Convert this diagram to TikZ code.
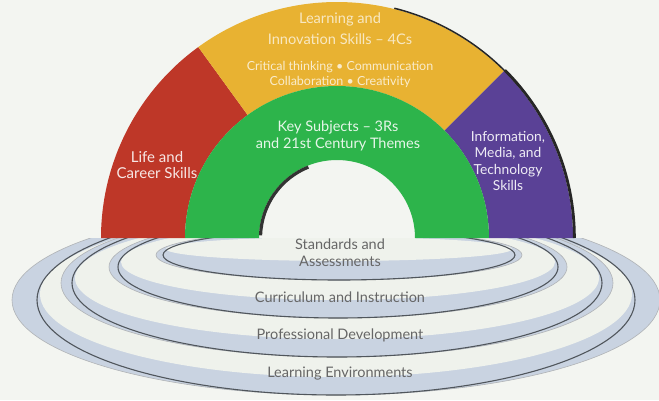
\documentclass[tikz,border=0pt]{standalone}
\usepackage{fontspec}
\setmainfont{Lato}
\definecolor{paper}{HTML}{F3F5F1}
\definecolor{lifered}{HTML}{BE3728}
\definecolor{learnyellow}{HTML}{E8B232}
\definecolor{keygreen}{HTML}{2DB44B}
\definecolor{infopurple}{HTML}{5A4196}
\definecolor{ringblue}{HTML}{C9D3E1}
\definecolor{ringwhite}{HTML}{EFF2EC}
\definecolor{ringline}{HTML}{50565C}
\definecolor{labelgrey}{HTML}{666666}

\begin{document}
\begin{tikzpicture}[x=1pt,y=1pt,
  band/.style={fill=ringblue,draw=ringline!45,line width=.6pt},
  topface/.style={fill=ringwhite},
  rim/.style={draw=ringline,line width=1.1pt},
  arclbl/.style={align=center,inner sep=0pt},
  baselbl/.style={align=center,inner sep=0pt,text=labelgrey,font=\fontsize{14.5}{17}\selectfont}]
\useasboundingbox (0,0) rectangle (659,400);
\fill[paper] (0,0) rectangle (659,400);
\coordinate (o) at (337,162);

% rings under the arch
\begin{scope}
\clip (0,0) rectangle (659,162);
\foreach \cx/\cy/\ra/\rd/\ry/\cdy/\cry in {336/100/324/299/95/6/83, 337/117/276/265/74/5/61, 338/133/229/220/51/5/38, 339/145/183/176/25/6/12}{
  \path[band] (\cx,\cy) ellipse [x radius=\ra, y radius=\ry];
  \fill[topface] (\cx,\cy+\cdy) ellipse [x radius=\rd-3, y radius=\cry];
  \draw[rim] (\cx,\cy) ellipse [x radius=\rd, y radius=\ry];
}
\end{scope}

% the arch
\foreach \col/\a/\b in {lifered/126/180, learnyellow/45/126, infopurple/0/45}
  \fill[\col] ([shift={(\b:236)}]o) arc[start angle=\b,end angle=\a,radius=236]
    -- ([shift={(\a:152)}]o) arc[start angle=\a,end angle=\b,radius=152] -- cycle;
\fill[keygreen] ([shift={(0:152)}]o) arc[start angle=0,end angle=180,radius=152]
  -- ([shift={(180:78)}]o) arc[start angle=180,end angle=0,radius=78] -- cycle;
\draw[black!85,line width=1.5pt] ([shift={(76:236.8)}]o) arc[start angle=76,end angle=40,radius=236.8];
\draw[black!85,line width=2.8pt] ([shift={(45:237.4)}]o) arc[start angle=45,end angle=0,radius=237.4];
\draw[black!80,line width=3.2pt] ([shift={(178:76.5)}]o) arc[start angle=178,end angle=112,radius=76.5];

\node[arclbl,text=learnyellow!30,font=\fontsize{14.6}{21}\selectfont] (learn) at (340,371) {Learning and\\Innovation Skills -- 4Cs};
\node[arclbl,text=learnyellow!25,font=\fontsize{12.5}{15}\selectfont] (fourcs) at (340,326) {Critical thinking • Communication\\Collaboration • Creativity};
\node[arclbl,text=keygreen!12,font=\fontsize{14.5}{17}\selectfont] (key) at (338,264) {Key Subjects -- 3Rs\\and 21st Century Themes};
\node[arclbl,text=lifered!12,font=\fontsize{15}{16}\selectfont] (life) at (157,235) {Life and\\Career Skills};
\node[arclbl,text=infopurple!10,font=\fontsize{13.8}{16.4}\selectfont] (info) at (508,239) {Information,\\Media, and\\Technology\\Skills};

\node[baselbl] (std) at (340,147) {Standards and\\Assessments};
\node[baselbl] (cur) at (340,103) {Curriculum and Instruction};
\node[baselbl] (pro) at (340,65) {Professional Development};
\node[baselbl] (env) at (340,26) {Learning Environments};
\end{tikzpicture}
\end{document}
